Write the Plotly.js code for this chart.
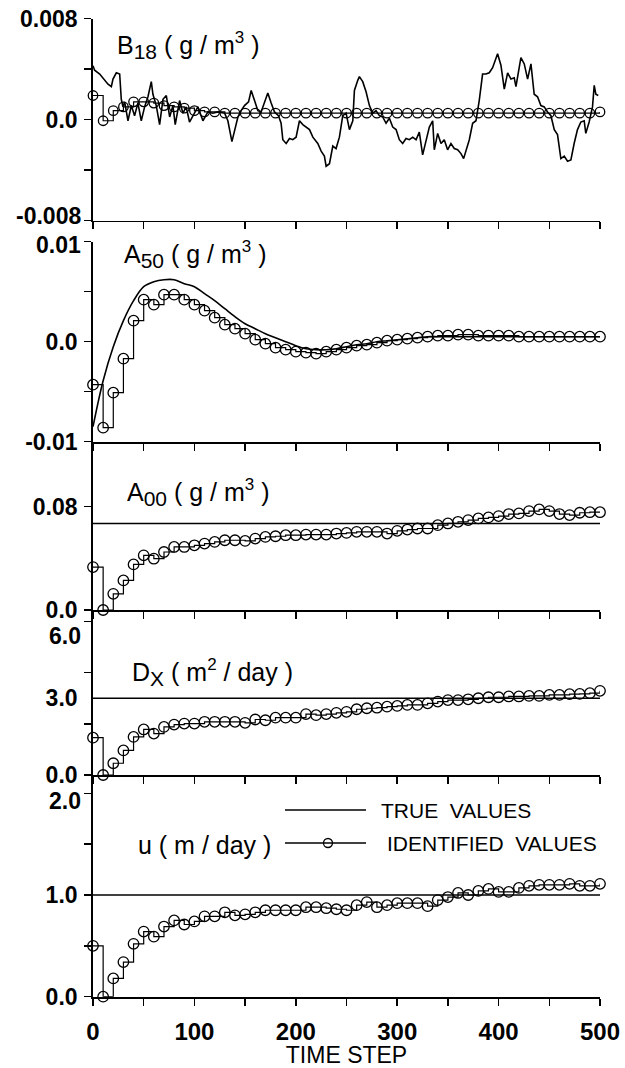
<!DOCTYPE html>
<html>
<head>
<meta charset="utf-8">
<script src="https://cdn.plot.ly/plotly-3.0.1.min.js"></script>
<style>html,body{margin:0;padding:0;background:#fff;}#chart{width:625px;height:1068px;}</style>
</head>
<body>
<div id="chart"></div>
<script>
// ---------------- data ----------------
const idSteps = [0,10,20,30,40,50,60,70,80,90,100,110,120,130,140,150,160,170,180,190,200,210,220,230,240,250,260,270,280,290,300,310,320,330,340,350,360,370,380,390,400,410,420,430,440,450,460,470,480,490,500];

// B18 (g/m3)
const b18Steps = [0,1.6,6.6,9.9,14.8,18.1,19.7,23,26.3,27.9,
  29.6,31.2,34.5,37.8,41,44.3,47.6,50.9,54.2,57.5,
  59.1,62.4,65.7,69,72.3,75.6,78.8,81.1,85.4,88.7,
  91.9,95.2,98.5,103.4,108.4,113.3,118.2,123.2,129.8,133,
  137,139.6,142.9,146.1,149.4,153.4,156,159.3,162.6,165.8,
  169.1,172.4,175.7,179,182.9,185.5,187.2,190.5,193.8,197,
  200.3,203.6,206.9,210.2,213.5,216.8,221.7,225,228.2,229.9,
  233.2,236.5,239.7,243,246.3,249.6,252.9,256.2,257.8,261.1,
  262.7,266,269.3,272.6,275.9,279.1,282.4,285.7,289,292.3,
  295.6,298.9,302.1,305.4,308.7,312,315.3,318.6,321.8,325.1,
  328.4,331.7,335,336.6,339.9,343.2,346.4,349.7,353,356.3,
  359.6,362.9,365.5,367.8,371.1,374.4,377.7,380.9,384.2,387.5,
  390.8,394.1,399,402.3,405.6,408.9,412.2,415.4,417.1,422,
  425.3,428.6,431.9,435.1,438.4,441.7,445,448.3,451.6,454.9,
  458.1,461.4,464.7,468,471.3,474.5,477.8,481.1,484.4,486,
  489.3,492.6,494.3,495.9,498.3];
const b18True = [0.00426,0.0039,0.0036,0.0033,0.0028,0.0026,0.0032,0.0037,0.0036,0.0016,
  0.001,0.0014,-0.0001,0.0011,0.0003,0.0013,-0.0001,0.001,0.0018,0.003,
  0.002,0.0011,-0.0004,0.0016,0.0019,0.0002,0.0011,-0.0004,0.0015,0.0005,
  0.001,-0.0002,0.0003,0.001,-0.0001,0.0006,0.0005,0.0006,0.0005,-0.0001,
  -0.00175,-0.0008,0.0002,0.0007,0.0011,0.0014,0.0023,0.0015,0.0007,0.0006,
  0.0013,0.0021,0.0013,0.0006,0.0003,-0.0003,-0.0016,-0.0019,-0.0015,-0.0016,
  -0.0014,-0.0001,-0.0004,-0.0006,-0.0008,-0.0014,-0.0019,-0.0025,-0.0029,-0.0037,
  -0.0035,-0.0021,-0.0023,-0.0014,0.0003,0.0005,-0.0008,-0.0001,0.0023,0.0031,
  0.0034,0.003,0.0022,0.0011,0.0005,0.0007,0.0003,0.0002,-0.0003,0.0001,
  -0.0006,-0.0008,-0.0016,-0.0019,-0.0015,-0.0016,-0.0014,-0.0016,-0.001,-0.0028,
  -0.0016,-0.0006,-0.0001,-0.0024,-0.0011,-0.0019,-0.0016,-0.0024,-0.0019,-0.0023,
  -0.0024,-0.0027,-0.0031,-0.0024,-0.0016,-0.0003,-0.0001,0.0015,0.0036,0.0036,
  0.0037,0.0041,0.0052,0.0043,0.0024,0.0037,0.0032,0.0033,0.0026,0.0049,
  0.0044,0.0032,0.0044,0.002,0.0018,0.0011,0.001,0.0006,0.0003,-0.0008,
  -0.0012,-0.0031,-0.0029,-0.0033,-0.0032,-0.0019,-0.0008,-0.0002,-0.0001,-0.0011,
  -0.0002,0.001,0.0027,0.002,0.0019];
const b18Id = [0.0019,-0.0001,0.0007,0.001,0.0014,0.0014,0.0013,0.0011,0.001,0.0009,
  0.0007,0.0006,0.0006,0.0005,0.0005,0.0005,0.0005,0.0005,0.0005,0.0005,
  0.0005,0.0005,0.0005,0.0005,0.0005,0.0005,0.0005,0.0005,0.0005,0.0005,
  0.0005,0.0005,0.0005,0.0005,0.0005,0.0005,0.0005,0.0005,0.0005,0.0005,
  0.0005,0.0005,0.0005,0.0005,0.0005,0.0005,0.0005,0.0005,0.0005,0.0005,0.0006];

// A50 (g/m3)
const a50True = [-0.0085,-0.0039,-0.0005,0.0021,0.0041,0.0055,0.006,0.0062,0.0062,0.0058,
  0.0055,0.0048,0.0041,0.0033,0.0025,0.0018,0.0013,0.0008,0.0004,0.0,
  -0.0004,-0.0007,-0.0008,-0.0008,-0.0007,-0.0005,-0.0003,-0.0002,0.0,0.0001,
  0.0002,0.0003,0.0004,0.0005,0.0005,0.0005,0.0005,0.0005,0.0005,0.0005,
  0.0005,0.0005,0.0005,0.0005,0.0005,0.0005,0.0005,0.0005,0.0005,0.0005,0.0005];
const a50Id = [-0.0043,-0.0086,-0.0051,-0.0017,0.0021,0.0042,0.0037,0.0047,0.0047,0.0042,
  0.0037,0.0031,0.0024,0.0017,0.0013,0.0008,0.0002,-0.0002,-0.0006,-0.0008,
  -0.001,-0.0011,-0.0012,-0.001,-0.0008,-0.0006,-0.0004,-0.0003,-0.0001,0.0001,
  0.0002,0.0003,0.0004,0.0005,0.0006,0.0006,0.0007,0.0007,0.0006,0.0006,
  0.0006,0.0006,0.0005,0.0005,0.0005,0.0005,0.0005,0.0005,0.0005,0.0005,0.0005];

// A00 (g/m3)
const a00TrueSteps = [0,500];
const a00True = [0.067,0.067];
const a00Id = [0.0332,0.0,0.0125,0.0229,0.0353,0.0423,0.0397,0.0449,0.0488,0.0488,
  0.0501,0.0514,0.0527,0.054,0.054,0.0535,0.0553,0.0566,0.0571,0.0579,
  0.0579,0.0584,0.0584,0.0584,0.0592,0.0597,0.0605,0.0605,0.0605,0.0592,
  0.0613,0.0623,0.0631,0.0631,0.0657,0.067,0.0683,0.0696,0.0709,0.0717,
  0.0727,0.0743,0.0748,0.0766,0.0779,0.0766,0.0743,0.0735,0.0753,0.0757,0.0757];

// Dx (m2/day)
const dxTrueSteps = [0,500];
const dxTrue = [3.0,3.0];
const dxId = [1.46,0.0,0.46,0.96,1.49,1.78,1.62,1.88,1.97,2.01,
  2.01,2.08,2.08,2.08,2.08,2.04,2.17,2.14,2.24,2.24,
  2.24,2.38,2.34,2.38,2.43,2.47,2.57,2.61,2.63,2.67,
  2.70,2.74,2.74,2.80,2.87,2.93,2.93,2.96,3.0,3.04,
  3.04,3.07,3.07,3.09,3.09,3.13,3.13,3.16,3.17,3.20,3.29];

// u (m/day)
const uTrueSteps = [0,500];
const uTrue = [1.0,1.0];
const uId = [0.50,0.0,0.18,0.34,0.52,0.64,0.59,0.69,0.75,0.71,
  0.74,0.79,0.79,0.83,0.80,0.81,0.83,0.85,0.85,0.85,
  0.85,0.88,0.88,0.87,0.86,0.85,0.90,0.93,0.88,0.90,
  0.92,0.92,0.92,0.89,0.95,0.98,1.02,1.00,1.04,1.06,
  1.03,1.03,1.07,1.09,1.10,1.10,1.10,1.11,1.09,1.09,1.11];

// tick labels
const xTickVals = [0,100,200,300,400,500];
const xTickText = ['0','100','200','300','400','500'];
const b18TickVals = [-0.008, 0, 0.008];
const b18TickText = ['-0.008', '0.0', '0.008'];
const a50TickVals = [-0.01, 0, 0.01];
const a50TickText = ['-0.01', '0.0', '0.01'];
const a00TickVals = [0, 0.08];
const a00TickText = ['0.0', '0.08'];
const dxTickVals = [0, 3, 6];
const dxTickText = ['0.0', '3.0', '6.0'];
const uTickVals = [0, 1, 2];
const uTickText = ['0.0', '1.0', '2.0'];

// ---------------- layout helpers ----------------
const W = 625, H = 1068;
const fx = p => p / W;
const fy = p => 1 - p / H;
const FONT = 'Liberation Sans, Arial, Helvetica, sans-serif';
const TICKFONT = {family: FONT, size: 23, color: '#000', weight: 'bold'};

function trueTrace(x, y, ax, shape) {
  return {x: x, y: y, xaxis: 'x' + ax, yaxis: 'y' + ax, type: 'scatter', mode: 'lines',
    line: {color: '#000', width: 1.6, shape: shape || 'linear'}, hoverinfo: 'skip', cliponaxis: false};
}
function idTrace(y, ax, msize) {
  return {x: idSteps, y: y, xaxis: 'x' + ax, yaxis: 'y' + ax, type: 'scatter', mode: 'lines+markers',
    line: {color: '#000', width: 1.2, shape: 'hv'},
    marker: {symbol: 'circle-open', size: msize || 10.5, color: '#000', line: {width: 1.3, color: '#000'}},
    hoverinfo: 'skip', cliponaxis: false};
}

const traces = [
  trueTrace(b18Steps, b18True, '', 'linear'),
  idTrace(b18Id, '', 9.5),
  trueTrace(idSteps, a50True, '2', 'spline'),
  idTrace(a50Id, '2'),
  trueTrace(a00TrueSteps, a00True, '3'),
  idTrace(a00Id, '3'),
  trueTrace(dxTrueSteps, dxTrue, '4'),
  idTrace(dxId, '4'),
  trueTrace(uTrueSteps, uTrue, '5'),
  idTrace(uId, '5')
];

const xBase = {
  domain: [fx(93), fx(600)], range: [0, 500], showline: true, linewidth: 1.8, linecolor: '#000',
  ticks: 'outside', ticklen: 7, tickwidth: 1.5, tickcolor: '#000', tickmode: 'linear', tick0: 0, dtick: 50,
  showgrid: false, zeroline: false, showticklabels: false, fixedrange: true, automargin: false
};
const yBase = {
  showline: true, linewidth: 1.8, linecolor: '#000', ticks: 'outside', ticklen: 7, tickwidth: 1.5,
  tickcolor: '#000', showgrid: false, zeroline: false, tickmode: 'array', fixedrange: true, automargin: false,
  tickfont: TICKFONT, ticklabelstandoff: 2
};
function ax(base, extra) { return Object.assign({}, JSON.parse(JSON.stringify(base)), extra); }
function minorTicks(vals) {
  return {tickmode: 'array', tickvals: vals, ticks: 'outside', ticklen: 7, tickwidth: 1.5, tickcolor: '#000', showgrid: false};
}

const layout = {
  width: W, height: H, margin: {l: 0, r: 0, t: 0, b: 0},
  paper_bgcolor: '#fff', plot_bgcolor: 'rgba(0,0,0,0)', showlegend: false,
  font: {family: FONT, color: '#000'},
  xaxis: ax(xBase, {anchor: 'y'}),
  xaxis2: ax(xBase, {anchor: 'y2'}),
  xaxis3: ax(xBase, {anchor: 'y3'}),
  xaxis4: ax(xBase, {anchor: 'y4'}),
  xaxis5: ax(xBase, {anchor: 'y5', showticklabels: true, tickmode: 'array', tickvals: xTickVals, ticktext: xTickText,
    minor: {tickmode: 'linear', tick0: 0, dtick: 50, ticks: 'outside', ticklen: 7, tickwidth: 1.5, tickcolor: '#000', showgrid: false},
    tickfont: {family: FONT, size: 24, color: '#000', weight: 'bold'}, ticklabelstandoff: 6,
    title: {text: 'TIME STEP', font: {family: FONT, size: 23, color: '#000'}, standoff: 4}}),
  // labels that sit off their tick in the reference are drawn as annotations below
  yaxis: ax(yBase, {anchor: 'x', domain: [fy(220.5), fy(18.5)], range: [-0.008, 0.008],
    tickvals: b18TickVals.slice(1), ticktext: b18TickText.slice(1),
    minor: minorTicks([-0.008, -0.004, 0.004])}),
  yaxis2: ax(yBase, {anchor: 'x2', domain: [fy(441.7), fy(241.7)], range: [-0.01, 0.01],
    tickvals: a50TickVals.slice(0, 2), ticktext: a50TickText.slice(0, 2),
    minor: minorTicks([-0.005, 0.005, 0.01])}),
  yaxis3: ax(yBase, {anchor: 'x3', domain: [fy(610), fy(441.7)], range: [0, 0.1303],
    tickvals: a00TickVals, ticktext: a00TickText}),
  yaxis4: ax(yBase, {anchor: 'x4', domain: [fy(775), fy(610)], range: [0, 6.45],
    tickvals: dxTickVals.slice(0, 2), ticktext: dxTickText.slice(0, 2), ticks: '', ticklabelstandoff: 9,
    minor: minorTicks([0, 2, 4, 6])}),
  yaxis5: ax(yBase, {anchor: 'x5', domain: [fy(996.7), fy(775)], range: [0, 2.18],
    tickvals: uTickVals.slice(0, 2), ticktext: uTickText.slice(0, 2),
    minor: minorTicks([0.5, 1.5, 2])}),
  annotations: [],
  shapes: []
};

function label(text, xpx, ypx, font, anchor) {
  layout.annotations.push({text: text, xref: 'paper', yref: 'paper', x: fx(xpx), y: fy(ypx),
    xanchor: anchor || 'left', yanchor: 'middle', showarrow: false, font: font});
}
const labelFont = {family: FONT, size: 25, color: '#000'};
const legendFont = {family: FONT, size: 21, color: '#000'};
const sub = t => '<sub><span style="font-size:21px">' + t + '</span></sub>';
const sup = t => '<sup><span style="font-size:17px">' + t + '</span></sup>';
label('B' + sub('18') + ' ( g / m' + sup('3') + ' )', 115, 46, labelFont);
label('A' + sub('50') + ' ( g / m' + sup('3') + ' )', 122, 255, labelFont);
label('A' + sub('00') + ' ( g / m' + sup('3') + ' )', 125, 492, labelFont);
label('D' + sub('X') + ' ( m' + sup('2') + ' / day )', 130, 672, labelFont);
label('u ( m / day )', 136, 845, labelFont);
label('TRUE  VALUES', 379, 810, legendFont);
label('IDENTIFIED  VALUES', 385, 843, legendFont);

// end-of-axis tick labels, nudged inside the panel as in the reference
label(b18TickText[0], 83, 216, TICKFONT, 'right');
label(a50TickText[2], 83, 245, TICKFONT, 'right');
label(dxTickText[2], 83, 636, TICKFONT, 'right');
label(uTickText[2], 83, 801, TICKFONT, 'right');

// legend samples
layout.shapes.push({type: 'line', xref: 'paper', yref: 'paper', x0: fx(285), x1: fx(366), y0: fy(810), y1: fy(810), line: {color: '#000', width: 1.4}});
layout.shapes.push({type: 'line', xref: 'paper', yref: 'paper', x0: fx(285), x1: fx(366), y0: fy(843), y1: fy(843), line: {color: '#000', width: 1.4}});
layout.shapes.push({type: 'circle', xref: 'paper', yref: 'paper', x0: fx(323.5), x1: fx(332.5), y0: fy(847.5), y1: fy(838.5), line: {color: '#000', width: 1.3}, fillcolor: 'rgba(0,0,0,0)'});

Plotly.newPlot('chart', traces, layout, {staticPlot: true, displayModeBar: false});
</script>
</body>
</html>
